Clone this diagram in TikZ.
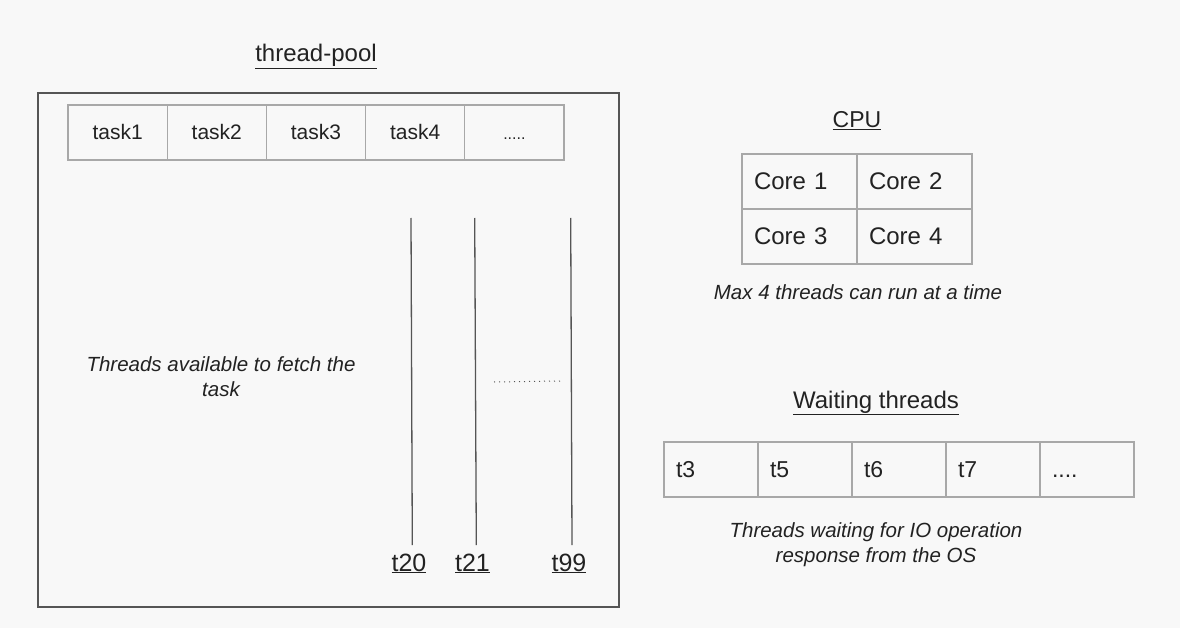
\documentclass[tikz,border=0pt]{standalone}
\usepackage{fontspec}
\setmainfont{Liberation Sans}
\definecolor{bg}{HTML}{F8F8F8}
\definecolor{ink}{HTML}{222222}
\definecolor{cellline}{HTML}{A8A8A8}
\definecolor{boxline}{HTML}{555555}
\tikzset{
  fs/.style={font=\fontsize{#1}{#1}\selectfont},
  cell/.style={draw=cellline, line width=1.3pt, minimum height=55pt, inner sep=0pt, outer sep=0pt, text=ink},
  taskcell/.style={cell, minimum width=99.2pt, fs=21, text height=15pt, text depth=0pt},
  corecell/.style={cell, minimum width=115pt, minimum height=55pt, fs=24, align=left, text width=91pt, text height=17pt, text depth=0pt},
  waitcell/.style={cell, minimum width=94pt, fs=23, text width=70pt, align=left, text height=16.5pt, text depth=0pt},
  title/.style={text=ink, inner sep=0pt, anchor=base},
  caption/.style={text=ink, align=center, inner sep=0pt, font=\fontsize{20.5}{25}\selectfont\itshape},
  thread/.style={draw=boxline, line width=1.3pt},
  ulabel/.style={text=ink, fs=25, inner sep=0pt, anchor=base},
}
\begin{document}
\begin{tikzpicture}[x=1pt,y=-1pt]
\fill[bg] (0,0) rectangle (1180,628);
\useasboundingbox (0,0) rectangle (1180,628);

% thread pool
\node[title, fs=24] (tptitle) at (316,62) {\underline{thread-pool}};
\node[draw=boxline, line width=1.4pt, minimum width=581pt, minimum height=514pt, inner sep=0pt, outer sep=0pt, anchor=north west] (pool) at (38,93) {};

\node[taskcell, anchor=north west] (task1) at (68,105) {task1};
\node[taskcell, anchor=west] (task2) at (task1.east) {task2};
\node[taskcell, anchor=west] (task3) at (task2.east) {task3};
\node[taskcell, anchor=west] (task4) at (task3.east) {task4};
\node[taskcell, anchor=west, fs=16] (task5) at (task4.east) {.....};

\coordinate (a20) at (411,218); \coordinate (b20) at (412.3,545);
\coordinate (a21) at (474.7,218); \coordinate (b21) at (476.3,545);
\coordinate (a99) at (570.7,218); \coordinate (b99) at (572,545);
\draw[thread] (a20) -- (b20);
\draw[thread] (a21) -- (b21);
\draw[thread] (a99) -- (b99);
\node[ulabel] (t20) at (409,571) {\underline{t20}};
\node[ulabel] (t21) at (472.5,571) {\underline{t21}};
\node[ulabel] (t99) at (569,571) {\underline{t99}};
\coordinate (d1) at (494,382); \coordinate (d2) at (560,381);
\draw[boxline, line width=1pt, dash pattern=on 1pt off 4pt] (d1) -- (d2);

\node[caption] (avail) at (221,377) {Threads available to fetch the\\task};

% CPU
\node[title, fs=23] (cputitle) at (857,128) {\underline{CPU}};
\node[corecell, anchor=north west] (c1) at (742,154) {Core 1};
\node[corecell, anchor=west] (c2) at (c1.east) {Core 2};
\node[corecell, anchor=north] (c3) at (c1.south) {Core 3};
\node[corecell, anchor=north] (c4) at (c2.south) {Core 4};
\node[caption] (maxc) at (858,292) {Max 4 threads can run at a time};

% Waiting threads
\node[title, fs=24] (wtitle) at (876,408) {\underline{Waiting threads}};
\node[waitcell, anchor=north west] (w1) at (664,442) {t3};
\node[waitcell, anchor=west] (w2) at (w1.east) {t5};
\node[waitcell, anchor=west] (w3) at (w2.east) {t6};
\node[waitcell, anchor=west] (w4) at (w3.east) {t7};
\node[waitcell, anchor=west] (w5) at (w4.east) {....};
\node[caption] (wcap) at (876,545) {Threads waiting for IO operation\\response from the OS};
\end{tikzpicture}
\end{document}
